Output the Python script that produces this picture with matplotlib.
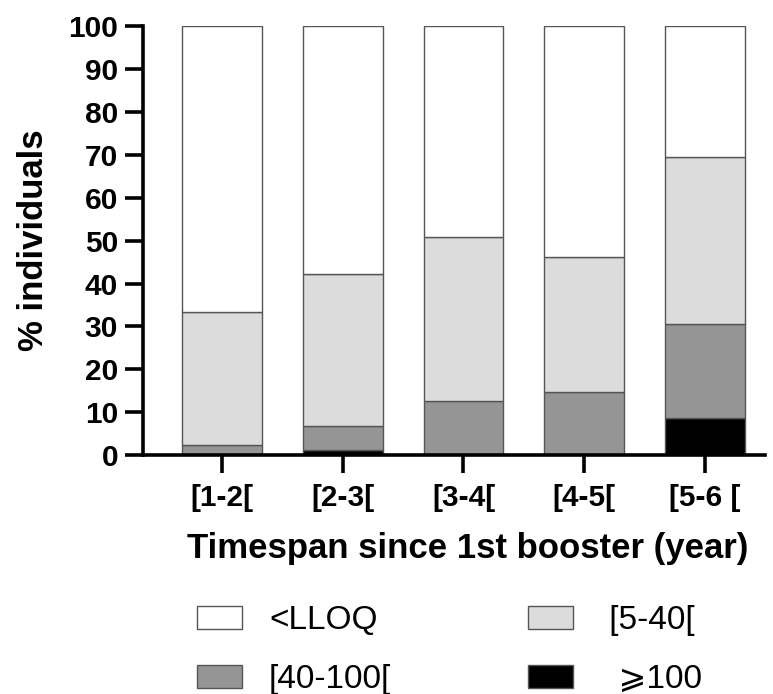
import matplotlib
matplotlib.use("Agg")
import matplotlib.pyplot as plt
import numpy as np

categories = ["[1-2[", "[2-3[", "[3-4[", "[4-5[", "[5-6 ["]
geq100 = [0.0, 1.2, 0.0, 0.0, 8.6]
s40_100 = [2.3, 5.6, 12.7, 14.7, 21.9]
s5_40 = [31.0, 35.4, 38.1, 31.5, 39.0]
lloq = [66.7, 57.8, 49.2, 53.8, 30.5]
series_labels = ["<LLOQ", " [5-40[", "[40-100[", "  \u2a7e100"]
colors = {"lloq": "#ffffff", "s5_40": "#dcdcdc", "s40_100": "#959595", "geq100": "#000000"}
yticks = list(range(0, 101, 10))

plt.rcParams['font.family'] = ['Liberation Sans', 'DejaVu Sans']

fig = plt.figure(figsize=(7.73, 6.94), dpi=100)
ax = fig.add_axes([0.185, 0.344, 0.805, 0.6185])

x = np.arange(len(categories))
w = 0.66
edge = dict(edgecolor="#555555", linewidth=1.0)
b0 = np.zeros(len(x))
h_geq = ax.bar(x, geq100, w, bottom=b0, color=colors["geq100"], **edge)
b1 = b0 + np.array(geq100)
h_40 = ax.bar(x, s40_100, w, bottom=b1, color=colors["s40_100"], **edge)
b2 = b1 + np.array(s40_100)
h_5 = ax.bar(x, s5_40, w, bottom=b2, color=colors["s5_40"], **edge)
b3 = b2 + np.array(s5_40)
h_l = ax.bar(x, lloq, w, bottom=b3, color=colors["lloq"], **edge)

ax.set_xlim(-0.655, 4.5)
ax.set_ylim(0, 100)
ax.set_yticks(yticks)
ax.set_xticks(x)
ax.set_xticklabels(categories)
for s in ["top", "right"]:
    ax.spines[s].set_visible(False)
for s in ["left", "bottom"]:
    ax.spines[s].set_linewidth(2.6)
ax.tick_params(axis="both", width=2.6, length=13, labelsize=21.5)
ax.tick_params(axis="y", pad=5)
ax.tick_params(axis="x", pad=8)
for lab in ax.get_xticklabels() + ax.get_yticklabels():
    lab.set_fontweight("bold")
ax.set_ylabel("% individuals", fontsize=25, fontweight="bold", labelpad=13)
ax.set_xlabel("Timespan since 1st booster (year)", fontsize=25, fontweight="bold", labelpad=14)
ax.xaxis.label.set_x(0.521)

handles = [h_l, h_40, h_5, h_geq]
labels = [series_labels[0], series_labels[2], series_labels[1], series_labels[3]]
fig.legend(handles, labels, ncol=2, loc="center left", bbox_to_anchor=(0.2549, 0.063),
           frameon=False, fontsize=24, handlelength=1.35, handleheight=0.66,
           handletextpad=0.81, columnspacing=4.1, labelspacing=0.84,
           borderpad=0, borderaxespad=0)

fig.savefig("out.png", dpi=100)
